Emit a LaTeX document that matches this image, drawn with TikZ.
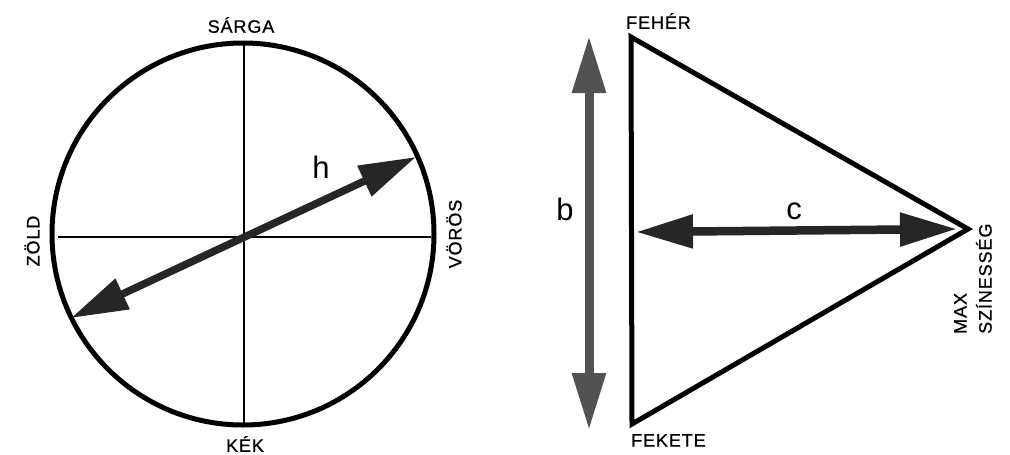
\documentclass[tikz,border=0pt]{standalone}
\usepackage{fontspec}
\setmainfont{Liberation Sans}
\newfontfamily\labfont[LetterSpace=5,FakeBold=0.8]{Liberation Sans}
\usetikzlibrary{arrows.meta}
\tikzset{
  lab/.style={inner sep=0pt, font=\labfont\fontsize{18}{25}\selectfont},
  big/.style={inner sep=0pt, font=\fontsize{31}{31}\selectfont},
  bigarrow/.style={line width=7.5pt, {Triangle[length=57pt,width=32pt]}-{Triangle[length=57pt,width=32pt]}},
  thick4/.style={line width=5pt},
}
\begin{document}
\begin{tikzpicture}[x=1pt,y=-1pt]
\useasboundingbox[fill=white] (0,0) rectangle (1010,455);
% ---- circle ----
\node[draw, circle, line width=5pt, minimum size=382pt, inner sep=0pt] (circ) at (243,234) {};
\coordinate (hl) at (58,237);
\coordinate (hr) at (431,237);
\coordinate (vt) at (244,45);
\coordinate (vb) at (244,424);
\draw[line width=2.2pt] (hl) -- (hr);
\draw[line width=2.2pt] (vt) -- (vb);
\coordinate (h1) at (71,318);
\coordinate (h2) at (416,157);
\draw[bigarrow, black!85] (h1) -- (h2);
\node[big] (hlab) at (321,167) {h};
\node[lab] (sarga) at (241,25) {SÁRGA};
\node[lab] (kek) at (245,444) {KÉK};
\node[lab, rotate=90] (zold) at (32,241) {ZÖLD};
\node[lab, rotate=90] (voros) at (454,234) {VÖRÖS};
% ---- triangle ----
\coordinate (wt) at (631,37);
\coordinate (bk) at (632,424);
\coordinate (mx) at (968,229);
\draw[thick4, line join=miter] (wt) -- (bk) -- (mx) -- cycle;
\node[lab, anchor=south west] (feher) at (626,29) {FEHÉR};
\node[lab, anchor=north west] (fekete) at (631,434) {FEKETE};
\node[lab, rotate=90, align=left, anchor=west] (maxsz) at (973,334) {MAX\\SZÍNESSÉG};
\coordinate (b1) at (589,36);
\coordinate (b2) at (589,430);
\draw[bigarrow, line width=9pt, black!68] (b1) -- (b2);
\node[big] (blab) at (565,209) {b};
\coordinate (c1) at (636,232);
\coordinate (c2) at (957,229);
\draw[bigarrow, line width=8.5pt, black!85] (c1) -- (c2);
\node[big] (clab) at (794,211) {c};
\end{tikzpicture}
\end{document}
